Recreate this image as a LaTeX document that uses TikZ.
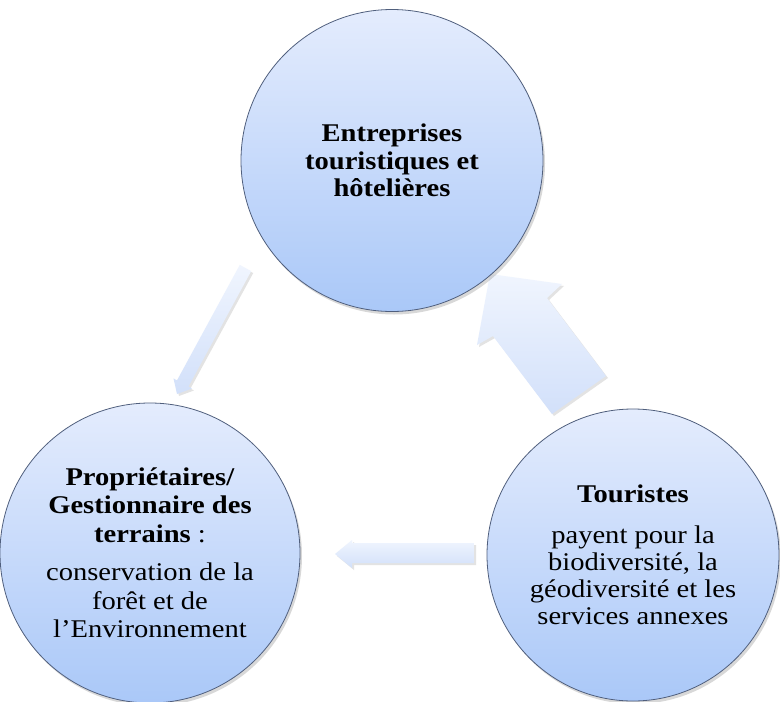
\documentclass[tikz,border=0pt]{standalone}
\usepackage{fontspec}
\setmainfont[FakeStretch=1.12]{Liberation Serif}
\usetikzlibrary{shadows}
\definecolor{ctop}{RGB}{228,236,253}
\definecolor{cbot}{RGB}{170,200,248}
\definecolor{cedge}{RGB}{80,95,125}
\definecolor{atop}{RGB}{240,245,254}
\definecolor{abot}{RGB}{210,224,250}
\begin{document}
\begin{tikzpicture}[x=1pt,y=-1pt,
  bubble/.style={circle, draw=cedge, line width=0.8pt, top color=ctop, bottom color=cbot,
    inner sep=0pt, align=center, font=\fontsize{25.5}{28.5}\selectfont,
    drop shadow={opacity=0.3, shadow xshift=2pt, shadow yshift=-3pt}},
  blockarrow/.style={top color=atop, bottom color=abot, draw=none,
    drop shadow={opacity=0.22, shadow xshift=2pt, shadow yshift=-2pt}}]
\fill[white] (0,0) rectangle (780,702);
\useasboundingbox (0,0) rectangle (780,702);

% block arrows
\path[blockarrow] (251.21,271.11) -- (188.44,386.57) -- (191.96,388.48) -- (177,394)
  -- (173.50,378.44) -- (177.02,380.35) -- (239.79,264.89) -- cycle;
\path[blockarrow] (490,274) -- (562,284) -- (547,298) -- (606,376) -- (552,414)
  -- (493,336) -- (477,345) -- cycle;
\path[blockarrow] (335,554) -- (352,540) -- (352,543) -- (474,543) -- (474,563)
  -- (352,563) -- (352,568) -- cycle;

% circles
\node[bubble, minimum size=302pt, font=\fontsize{25.5}{27.5}\selectfont] (ent) at (392,160.5)
  {\textbf{Entreprises}\\\textbf{touristiques et}\\\textbf{hôtelières}};
\node[bubble, minimum size=300pt] (prop) at (150,553)
  {\textbf{Propriétaires/}\\\textbf{Gestionnaire des}\\\textbf{terrains} :\\[10pt]
   conservation de la\\forêt et de\\l’Environnement};
\node[bubble, minimum size=292pt, font=\fontsize{25.5}{27}\selectfont] (tour) at (633,555)
  {\textbf{Touristes}\\[14pt]payent pour la\\biodiversité, la\\géodiversité et les\\services annexes};
\end{tikzpicture}
\end{document}
